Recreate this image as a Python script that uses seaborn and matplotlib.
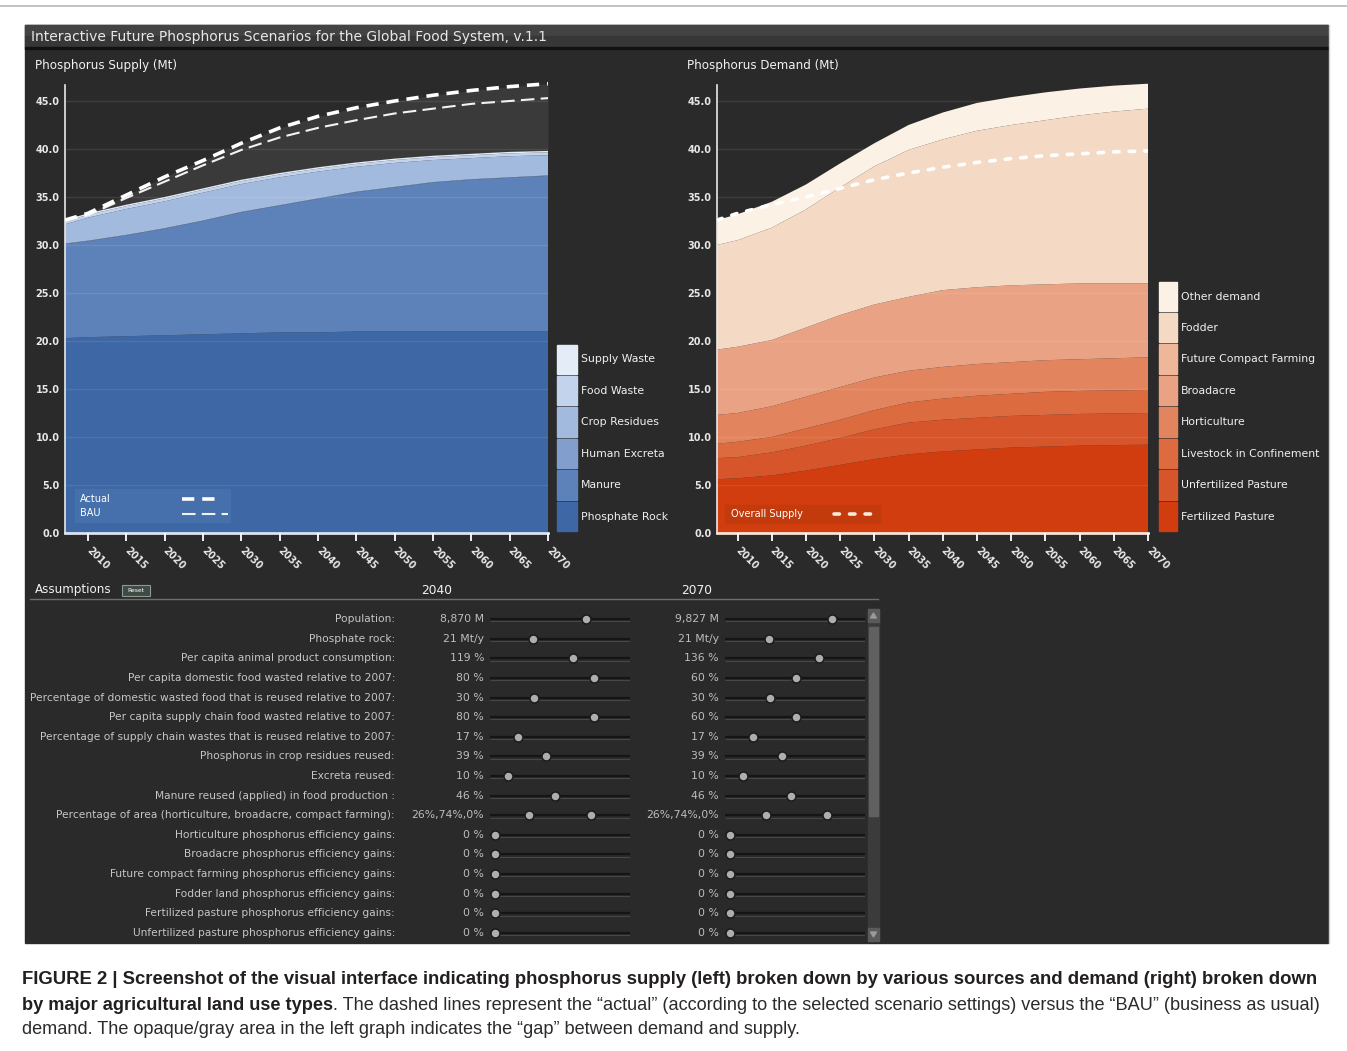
import matplotlib
matplotlib.use("Agg")
import matplotlib.pyplot as plt
from matplotlib.patches import Rectangle, Polygon
from matplotlib import font_manager
import numpy as np
import pandas as pd
import seaborn as sns

W, H = 1347, 1051

# ---- data (Mt) ----
years = [2007, 2010, 2015, 2020, 2025, 2030, 2035, 2040, 2045, 2050, 2055, 2060, 2065, 2070]

# supply, bottom to top
phosphate_rock = [20.3, 20.4, 20.5, 20.6, 20.7, 20.8, 20.9, 20.9, 21.0, 21.0, 21.0, 21.0, 21.0, 21.0]
manure = [9.8, 10.0, 10.5, 11.1, 11.8, 12.6, 13.2, 13.9, 14.5, 15.0, 15.5, 15.8, 16.0, 16.2]
human_excreta = [0.05, 0.05, 0.05, 0.05, 0.05, 0.05, 0.05, 0.05, 0.05, 0.05, 0.05, 0.05, 0.05, 0.05]
crop_residues = [2.0, 2.4, 2.7, 2.8, 2.9, 2.9, 2.9, 2.8, 2.6, 2.5, 2.3, 2.2, 2.2, 2.1]
food_waste = [0.3, 0.3, 0.3, 0.3, 0.3, 0.3, 0.3, 0.3, 0.3, 0.3, 0.3, 0.3, 0.3, 0.3]
supply_waste = [0.15, 0.15, 0.15, 0.15, 0.15, 0.15, 0.15, 0.15, 0.15, 0.15, 0.15, 0.15, 0.15, 0.15]

actual_demand = [32.6, 33.3, 35.2, 37.1, 38.8, 40.6, 42.2, 43.4, 44.3, 45.0, 45.6, 46.1, 46.5, 46.8]
bau_demand = [32.6, 33.1, 34.9, 36.6, 38.3, 39.9, 41.2, 42.2, 43.0, 43.7, 44.2, 44.7, 45.0, 45.3]

# demand, bottom to top
fertilized_pasture = [5.6, 5.7, 6.0, 6.5, 7.1, 7.7, 8.2, 8.5, 8.7, 8.9, 9.0, 9.1, 9.15, 9.2]
unfertilized_pasture = [2.2, 2.2, 2.4, 2.6, 2.8, 3.1, 3.3, 3.3, 3.3, 3.3, 3.3, 3.3, 3.3, 3.3]
livestock_confinement = [1.5, 1.6, 1.6, 1.8, 1.9, 2.0, 2.1, 2.2, 2.3, 2.3, 2.4, 2.4, 2.4, 2.4]
horticulture = [3.0, 3.0, 3.2, 3.3, 3.4, 3.4, 3.3, 3.3, 3.3, 3.3, 3.3, 3.3, 3.35, 3.4]
broadacre = [6.8, 6.9, 6.9, 7.2, 7.5, 7.6, 7.7, 8.0, 8.0, 8.0, 7.9, 7.9, 7.8, 7.7]
future_compact = [0, 0, 0, 0, 0, 0, 0, 0, 0, 0, 0, 0, 0, 0]
fodder = [10.9, 11.1, 11.7, 12.3, 13.3, 14.4, 15.3, 15.7, 16.3, 16.7, 17.1, 17.5, 17.9, 18.2]
other_demand = [2.6, 2.7, 2.7, 2.6, 2.5, 2.4, 2.6, 2.8, 2.9, 2.9, 2.9, 2.8, 2.7, 2.6]

supply_labels = ['Supply Waste', 'Food Waste', 'Crop Residues', 'Human Excreta', 'Manure', 'Phosphate Rock']
supply_colors = ['#e4ecf7', '#c3d3ec', '#a3badf', '#819ecd', '#5d82b9', '#3d67a5']
demand_labels = ['Other demand', 'Fodder', 'Future Compact Farming', 'Broadacre', 'Horticulture',
                 'Livestock in Confinement', 'Unfertilized Pasture', 'Fertilized Pasture']
demand_colors = ['#fbf1e5', '#f4d9c5', '#eeb799', '#e9a283', '#e2855f', '#dc6b3f', '#d6552a', '#d13d0e']

# assumptions panel
assumption_labels = [
    'Population:', 'Phosphate rock:', 'Per capita animal product consumption:',
    'Per capita domestic food wasted relative to 2007:',
    'Percentage of domestic wasted food that is reused relative to 2007:',
    'Per capita supply chain food wasted relative to 2007:',
    'Percentage of supply chain wastes that is reused relative to 2007:',
    'Phosphorus in crop residues reused:', 'Excreta reused:',
    'Manure reused (applied) in food production :',
    'Percentage of area (horticulture, broadacre, compact farming):',
    'Horticulture phosphorus efficiency gains:', 'Broadacre phosphorus efficiency gains:',
    'Future compact farming phosphorus efficiency gains:', 'Fodder land phosphorus efficiency gains:',
    'Fertilized pasture phosphorus efficiency gains:', 'Unfertilized pasture phosphorus efficiency gains:']
values_2040 = ['8,870 M', '21 Mt/y', '119 %', '80 %', '30 %', '80 %', '17 %', '39 %', '10 %', '46 %',
               '26%,74%,0%', '0 %', '0 %', '0 %', '0 %', '0 %', '0 %']
values_2070 = ['9,827 M', '21 Mt/y', '136 %', '60 %', '30 %', '60 %', '17 %', '39 %', '10 %', '46 %',
               '26%,74%,0%', '0 %', '0 %', '0 %', '0 %', '0 %', '0 %']
knob_2040 = [0.684, 0.31, 0.59, 0.74, 0.316, 0.74, 0.198, 0.40, 0.126, 0.464, 0.281,
             0.036, 0.036, 0.036, 0.036, 0.036, 0.036]
knob_2070 = [0.762, 0.314, 0.671, 0.507, 0.321, 0.507, 0.202, 0.405, 0.131, 0.469, 0.291,
             0.036, 0.036, 0.036, 0.036, 0.036, 0.036]
area_knob_2040 = 0.721   # second handle of the area split slider
area_knob_2070 = 0.726

supply_total = np.sum([phosphate_rock, manure, human_excreta, crop_residues, food_waste, supply_waste], axis=0)

# ---- figure ----
fig = plt.figure(figsize=(W / 100, H / 100), dpi=100)
fig.patch.set_facecolor('white')
UI = 'DejaVu Sans'


def box(x0, y0, x1, y1):
    return [x0 / W, 1 - y1 / H, (x1 - x0) / W, (y1 - y0) / H]


bg = fig.add_axes([0, 0, 1, 1], zorder=0)
bg.set_xlim(0, W)
bg.set_ylim(H, 0)
bg.axis('off')

bg.plot([0, W], [6, 6], color='#b8b8b8', lw=1.2)
bg.add_patch(Rectangle((25, 25), 1303, 918, color='#2a2a2a'))
bg.add_patch(Rectangle((25, 25), 1303, 11, color='#434343'))
bg.add_patch(Rectangle((25, 36), 1303, 11, color='#373737'))
bg.add_patch(Rectangle((25, 47), 1303, 2, color='#111111'))
bg.plot([1328.5, 1328.5], [25, 943], color='#cfcfcf', lw=1)

title = bg.text(31, 36.5, 'Interactive Future Phosphorus Scenarios for the Global Food System, v.1.1',
                color='#e8e8e8', fontsize=10, va='center', family=UI)
bg.text(35, 65, 'Phosphorus Supply (Mt)', color='#f2f2f2', fontsize=8.6, va='center', family=UI)
bg.text(687, 65, 'Phosphorus Demand (Mt)', color='#f2f2f2', fontsize=8.6, va='center', family=UI)


def style_chart(ax, bottom_color):
    ax.set_facecolor('none')
    ax.set_xlim(2007, 2070)
    ax.set_ylim(0, 48)
    yt = np.arange(0, 50, 5)
    ax.set_yticks(yt)
    ax.set_yticklabels([f'{v:.1f}' for v in yt])
    xt = list(range(2010, 2075, 5))
    ax.set_xticks(xt)
    ax.set_xticklabels([str(v) for v in xt])
    ax.tick_params(axis='y', length=0, pad=4, labelsize=7, labelcolor='#e6e6e6')
    ax.tick_params(axis='x', length=6, width=1.3, color='white', pad=5.5,
                   labelsize=7, labelcolor='#e6e6e6')
    for lab in ax.get_xticklabels():
        lab.set_rotation(-45)
        lab.set_ha('left')
        lab.set_va('center')
        lab.set_rotation_mode('anchor')
        lab.set_fontweight('bold')
    for lab in ax.get_yticklabels():
        lab.set_fontweight('bold')
    ax.grid(axis='y', color='white', alpha=0.09, lw=1)
    ax.grid(axis='x', visible=False)
    ax.set_axisbelow(False)
    ax.spines['top'].set_visible(False)
    ax.spines['right'].set_visible(False)
    ax.spines['left'].set_color('#e8e8e8')
    ax.spines['left'].set_linewidth(1.2)
    ax.spines['left'].set_bounds(0, 46.7)
    ax.spines['bottom'].set_color(bottom_color)
    ax.spines['bottom'].set_linewidth(2)
    ax.set_xlabel('')
    ax.set_ylabel('')


# ---- supply chart ----
ax1 = fig.add_axes(box(65, 72.2, 548, 533), zorder=1)
ax1.fill_between(years, supply_total, actual_demand, color='#3a3a3a', lw=0, zorder=1)
ax1.stackplot(years, phosphate_rock, manure, human_excreta, crop_residues, food_waste, supply_waste,
              colors=supply_colors[::-1], linewidth=0, zorder=1)
sns.lineplot(x=years, y=bau_demand, ax=ax1, color='#f2f2f2', linewidth=1.5,
             linestyle=(0, (6.5, 3)), dash_capstyle='butt', zorder=4)
sns.lineplot(x=years, y=actual_demand, ax=ax1, color='white', linewidth=2.6,
             linestyle=(0, (3.4, 2.2)), dash_capstyle='butt', zorder=4)
style_chart(ax1, '#dbe3f0')

# ---- demand chart ----
ax2 = fig.add_axes(box(717, 72.2, 1148, 533), zorder=1)
ax2.stackplot(years, fertilized_pasture, unfertilized_pasture, livestock_confinement, horticulture,
              broadacre, future_compact, fodder, other_demand,
              colors=demand_colors[::-1], linewidth=0, zorder=1)
sns.lineplot(x=years, y=supply_total, ax=ax2, color='white', linewidth=2.6,
             linestyle=(0, (1.5, 2.8)), dash_capstyle='round', zorder=4)
style_chart(ax2, '#f6e2d6')

# ---- legends beside the charts ----
for i, (lab, col) in enumerate(zip(supply_labels, supply_colors)):
    top = 344.5 + 31.4 * i
    bg.add_patch(Rectangle((557, top), 20, 29.5, color=col))
    bg.text(581, top + 15, lab, color='#f0f0f0', fontsize=7.8, va='center', family=UI)
for i, (lab, col) in enumerate(zip(demand_labels, demand_colors)):
    top = 281.5 + 31.43 * i
    bg.add_patch(Rectangle((1159, top), 18, 29.5, color=col))
    bg.text(1181, top + 15, lab, color='#f0f0f0', fontsize=7.8, va='center', family=UI)

# ---- inner legends (on top of the charts) ----
ov = fig.add_axes([0, 0, 1, 1], zorder=5)
ov.set_xlim(0, W)
ov.set_ylim(H, 0)
ov.axis('off')
ov.patch.set_alpha(0)
ov.add_patch(Rectangle((75, 489), 155, 33, color='#4670ab'))
ov.text(80, 498.5, 'Actual', color='white', fontsize=7, va='center', family=UI)
ov.text(80, 513.5, 'BAU', color='white', fontsize=7, va='center', family=UI)
ov.plot([182, 220], [498.5, 498.5], color='white', lw=2.6, linestyle=(0, (3.4, 2.2)), dash_capstyle='butt')
ov.plot([182, 228], [513.5, 513.5], color='#f2f2f2', lw=1.5, linestyle=(0, (6.5, 3)), dash_capstyle='butt')
ov.add_patch(Rectangle((725, 505), 155, 18, color='#c33b0c'))
ov.text(731, 514, 'Overall Supply', color='white', fontsize=7.1, va='center', family=UI)
ov.plot([834, 872], [514, 514], color='#fbe9dc', lw=2.6, linestyle=(0, (1.5, 2.8)), dash_capstyle='round')

# ---- assumptions panel ----
bg.text(35, 590, 'Assumptions', color='#f2f2f2', fontsize=8.6, va='center', family=UI)
bg.add_patch(Rectangle((122, 585), 28, 11, facecolor='#3f4a44', edgecolor='#8c9a90', lw=0.8))
bg.text(136, 590.5, 'Reset', color='white', fontsize=4.3, ha='center', va='center', family=UI)
bg.text(437, 590, '2040', color='#f2f2f2', fontsize=8.8, ha='center', va='center', family=UI)
bg.text(697, 590, '2070', color='#f2f2f2', fontsize=8.8, ha='center', va='center', family=UI)
bg.plot([30, 878], [598.5, 598.5], color='#6e6e6e', lw=1)

# scrollbar
bg.add_patch(Rectangle((868, 609), 11, 332, color='#3b3b3b'))
bg.add_patch(Rectangle((868, 609), 11, 13, color='#5a5a5a'))
bg.add_patch(Rectangle((868, 928), 11, 13, color='#5a5a5a'))
bg.add_patch(Rectangle((869, 627), 9, 189, color='#606060'))
bg.add_patch(Polygon([[870.5, 618], [876.5, 618], [873.5, 613]], color='#9a9a9a'))
bg.add_patch(Polygon([[870.5, 932], [876.5, 932], [873.5, 937]], color='#9a9a9a'))

rows = list(range(len(assumption_labels)))


def slider_axes(x0, x1, knobs, extra, values, with_labels):
    ax = fig.add_axes(box(x0, 609.2, x1, 942.8), zorder=2)
    ax.set_facecolor('none')
    ax.hlines([r + 0.12 for r in rows], 0, 1, color='#474747', lw=0.8)
    ax.hlines(rows, 0, 1, color='#151515', lw=1.6)
    kdf = pd.DataFrame({'pos': knobs + [extra], 'row': rows + [10]})
    sns.scatterplot(data=kdf, x='pos', y='row', ax=ax, s=42, color='#aeaeae',
                    edgecolor='#1b1b1b', linewidth=1.1, zorder=3)
    ax.set_xlim(0, 1)
    ax.set_ylim(len(rows) - 0.5, -0.5)
    ax.axis('off')
    px = 1.0 / (x1 - x0)
    for r in rows:
        ax.text(-6 * px, r, values[r], color='#bdbdbd', fontsize=7.8, ha='right', va='center', family=UI)
        if with_labels:
            ax.text((395 - x0) * px, r, assumption_labels[r], color='#c6c6c6', fontsize=7.7,
                    ha='right', va='center', family=UI)
    return ax


slider_axes(490, 630, knob_2040, area_knob_2040, values_2040, True)
slider_axes(725, 865, knob_2070, area_knob_2070, values_2070, False)

# ---- caption ----
names = {f.name for f in font_manager.fontManager.ttflist}
cap_font = 'Liberation Sans Narrow' if 'Liberation Sans Narrow' in names else 'Liberation Sans'
renderer = fig.canvas.get_renderer()


def fit(t, target):
    w = t.get_window_extent(renderer).width
    t.set_fontsize(t.get_fontsize() * target / w)


fit(title, 518)
line1 = bg.text(22, 980, 'FIGURE 2 | Screenshot of the visual interface indicating phosphorus supply (left) '
                'broken down by various sources and demand (right) broken down',
                color='#231f20', fontsize=12, fontweight='bold', va='center', family=cap_font)
fit(line1, 1293)
fs = line1.get_fontsize()

# second line: bold lead-in followed by plain text, fitted to the same right edge
bold2 = 'by major agricultural land use types'
plain2 = ('. The dashed lines represent the \u201cactual\u201d (according to the selected scenario '
          'settings) versus the \u201cBAU\u201d (business as usual)')
part = bg.text(22, 1005, bold2, color='#231f20', fontsize=fs, fontweight='bold', va='center', family=cap_font)
rest = bg.text(0, 1005, plain2, color='#2b2b2b', fontsize=fs, va='center', family=cap_font)
total = part.get_window_extent(renderer).width + rest.get_window_extent(renderer).width
fs2 = fs * 1294 / total
part.set_fontsize(fs2)
rest.set_fontsize(fs2)
rest.set_x(22 + part.get_window_extent(renderer).width)
bg.text(22, 1030, 'demand. The opaque/gray area in the left graph indicates the \u201cgap\u201d between demand '
        'and supply.', color='#2b2b2b', fontsize=fs2, va='center', family=cap_font)

fig.savefig('out.png', dpi=100, facecolor='white')
